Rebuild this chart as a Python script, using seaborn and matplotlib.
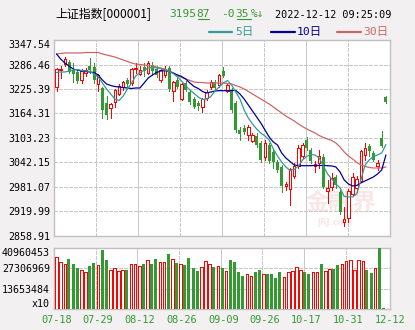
import numpy as np
import pandas as pd
import matplotlib
matplotlib.use("Agg")
import matplotlib.pyplot as plt
from matplotlib.lines import Line2D
import seaborn as sns

# ---------------- data ----------------
title = "上证指数[000001]"
price_int, price_dec = "3195", "87"
chg_int, chg_dec, chg_tail = "-0", "35", "%↓"
timestamp = "2022-12-12 09:25:09"
legend_labels = ["5日", "10日", "30日"]

date_labels = ["07-18", "07-29", "08-12", "08-26", "09-09", "09-26", "10-17", "10-31", "12-12"]
price_ticks = [3347.54, 3286.46, 3225.39, 3164.31, 3103.23, 3042.15, 2981.07, 2919.99, 2858.91]
vol_max = 40960453
vol_tick_labels = ["x10", "13653484", "27306969", "40960453"]

open_ = [3230, 3273, 3288, 3293, 3273, 3268, 3248, 3265, 3283, 3280,
         3238, 3228, 3190, 3178, 3193, 3213, 3230, 3248, 3240, 3275,
         3263, 3280, 3265, 3285, 3275, 3248, 3260, 3278, 3220, 3248,
         3200, 3240, 3218, 3200, 3190, 3180, 3203, 3230, 3243, 3235,
         3270, 3220, 3223, 3190, 3123, 3128, 3111, 3096, 3108, 3091,
         3056, 3086, 3068, 3043, 3031, 2984, 2976, 3009, 3033, 3058,
         3098, 3073, 3033, 3041, 3056, 2971, 2981, 3006, 2969, 2894,
         2904, 2964, 2979, 2996, 3061, 3083, 3066, 3033, 3103, 3205]
high = [3278, 3283, 3305, 3298, 3290, 3275, 3275, 3278, 3303, 3290,
        3262, 3230, 3208, 3190, 3225, 3238, 3245, 3253, 3278, 3290,
        3283, 3290, 3295, 3293, 3283, 3278, 3283, 3283, 3245, 3255,
        3240, 3245, 3223, 3205, 3195, 3203, 3223, 3248, 3248, 3263,
        3280, 3238, 3228, 3195, 3131, 3136, 3136, 3116, 3116, 3096,
        3098, 3091, 3073, 3048, 3036, 2994, 3028, 3041, 3086, 3091,
        3106, 3078, 3046, 3073, 3063, 2999, 3016, 3011, 2974, 2931,
        2976, 3016, 3009, 3073, 3091, 3088, 3071, 3048, 3121, 3207]
low = [3220, 3253, 3283, 3265, 3243, 3240, 3240, 3258, 3265, 3240,
       3220, 3153, 3151, 3153, 3180, 3210, 3223, 3233, 3235, 3265,
       3260, 3258, 3263, 3260, 3255, 3243, 3255, 3220, 3195, 3228,
       3198, 3220, 3188, 3178, 3173, 3168, 3198, 3225, 3223, 3230,
       3255, 3218, 3168, 3118, 3098, 3113, 3098, 3093, 3081, 3043,
       3048, 3041, 3028, 3018, 2969, 2974, 2936, 3003, 3028, 3053,
       3073, 3041, 3018, 3028, 2979, 2941, 2974, 2979, 2914, 2884,
       2894, 2959, 2969, 2994, 3048, 3058, 3046, 3023, 3081, 3190]
close = [3275, 3275, 3300, 3268, 3263, 3245, 3270, 3273, 3273, 3248,
         3260, 3173, 3160, 3188, 3223, 3233, 3243, 3238, 3275, 3278,
         3273, 3270, 3290, 3270, 3260, 3273, 3275, 3225, 3243, 3230,
         3238, 3223, 3193, 3180, 3183, 3200, 3218, 3243, 3228, 3260,
         3258, 3235, 3173, 3123, 3113, 3118, 3131, 3111, 3086, 3048,
         3091, 3046, 3043, 3024, 2984, 2989, 3026, 3033, 3078, 3086,
         3078, 3046, 3038, 3058, 2981, 2979, 3004, 2986, 2919, 2901,
         2971, 3006, 3001, 3071, 3078, 3071, 3048, 3041, 3083, 3192]
volume_m = [34.72, 31.36, 30.02, 33.57, 30.22, 27.53, 26.19, 24.64, 28.87, 30.89,
            29.55, 39.62, 32.90, 26.19, 27.33, 25.72, 26.19, 26.19, 30.02, 30.02,
            28.87, 30.02, 32.90, 30.02, 33.57, 31.36, 31.36, 36.93, 33.57, 30.89,
            30.02, 29.55, 34.25, 27.53, 25.52, 28.00, 32.23, 30.02, 28.20, 28.87,
            27.33, 25.52, 32.90, 31.36, 24.85, 22.16, 23.30, 22.16, 24.85, 26.19,
            23.30, 23.30, 23.30, 20.82, 24.85, 21.49, 24.85, 25.52, 28.00, 26.19,
            24.85, 23.50, 24.85, 24.85, 30.22, 25.52, 26.86, 26.86, 29.55, 30.22,
            32.23, 32.90, 26.19, 32.90, 32.23, 26.19, 24.17, 27.33, 40.960453, 0.87]
ma5 = [3266.5, 3267.8, 3267.8, 3270.3, 3272.8, 3274.0, 3271.5, 3270.3, 3269.5, 3262.8,
       3255.3, 3240.3, 3225.4, 3212.9, 3200.5, 3196.7, 3207.9, 3225.4, 3240.3, 3257.8,
       3266.5, 3271.5, 3277.7, 3279.0, 3277.7, 3276.0, 3272.8, 3269.0, 3264.0, 3255.3,
       3245.3, 3232.9, 3222.9, 3214.2, 3205.4, 3199.2, 3200.5, 3206.7, 3220.4, 3230.4,
       3240.3, 3246.6, 3235.4, 3217.9, 3200.5, 3173.0, 3153.1, 3138.2, 3125.7, 3115.7,
       3108.3, 3098.3, 3075.9, 3058.4, 3043.5, 3031.0, 3022.3, 3024.8, 3033.5, 3048.5,
       3057.2, 3062.1, 3060.9, 3053.5, 3033.5, 3013.6, 3001.1, 2988.7, 2978.7, 2957.5,
       2956.3, 2956.3, 2963.7, 2998.6, 3036.0, 3048.5, 3057.2, 3060.9, 3065.9, 3086.8]
ma10 = [3312.7, 3300.2, 3290.2, 3282.7, 3275.2, 3272.8, 3270.3, 3269.0, 3267.8, 3266.5,
        3260.3, 3247.8, 3237.8, 3234.1, 3231.6, 3230.4, 3229.1, 3227.9, 3226.6, 3227.9,
        3227.9, 3240.3, 3252.8, 3260.3, 3266.5, 3270.3, 3271.0, 3269.0, 3265.3, 3260.3,
        3256.5, 3250.3, 3240.3, 3231.6, 3226.6, 3219.2, 3215.4, 3217.9, 3220.4, 3221.2,
        3221.2, 3221.2, 3221.6, 3221.6, 3212.9, 3200.5, 3185.5, 3170.5, 3155.6, 3140.6,
        3123.2, 3105.8, 3093.3, 3085.8, 3065.9, 3053.5, 3044.7, 3036.0, 3034.2, 3034.2,
        3034.2, 3034.2, 3034.7, 3034.7, 3034.7, 3034.2, 3033.5, 3031.0, 3018.6, 2998.6,
        2988.7, 2983.7, 2984.9, 2991.2, 2996.2, 3001.1, 3006.1, 3013.6, 3023.6, 3060.9]
ma30 = [3312.7, 3313.9, 3315.2, 3315.2, 3315.2, 3315.2, 3315.2, 3316.4, 3316.4, 3316.4,
        3316.4, 3312.7, 3310.2, 3307.7, 3305.2, 3301.4, 3297.7, 3294.0, 3290.2, 3287.7,
        3286.5, 3285.2, 3284.0, 3282.7, 3280.2, 3277.7, 3275.2, 3270.3, 3265.3, 3259.0,
        3254.0, 3250.3, 3246.6, 3242.8, 3241.6, 3241.6, 3240.3, 3240.3, 3240.3, 3240.3,
        3240.3, 3239.1, 3237.8, 3234.1, 3230.4, 3225.4, 3219.2, 3212.9, 3206.7, 3200.5,
        3194.2, 3188.0, 3180.5, 3173.0, 3165.6, 3158.1, 3151.9, 3145.6, 3138.2, 3131.9,
        3125.7, 3120.7, 3115.7, 3109.5, 3104.5, 3100.8, 3097.0, 3090.8, 3080.9, 3068.4,
        3058.4, 3051.0, 3042.3, 3036.0, 3032.3, 3029.8, 3028.5, 3028.5, 3028.5, 3031.0]

# ---------------- style ----------------
BG = "#f2f0f1"
RED = "#ff0000"
GREEN = "#339933"
TEAL = "#339999"
NAVY = "#000099"
SALMON = "#cc6666"
GRID = "#c8c8c8"
SPINE = "#c0c0c0"
PX = 0.72  # one pixel in points

sns.set_style("white")
plt.rcParams["font.family"] = ["DejaVu Sans Mono", "Noto Sans CJK SC"]

W, H = 415, 330
fig = plt.figure(figsize=(W / 100, H / 100), dpi=100, facecolor=BG)


def rect(l, t, r, b):
    return [l / W, 1 - b / H, (r - l) / W, (b - t) / H]


ax = fig.add_axes(rect(54, 40, 390, 236))
axv = fig.add_axes(rect(54, 248, 390, 309))

df = pd.DataFrame({"idx": np.arange(len(close)), "open": open_, "high": high,
                   "low": low, "close": close,
                   "volume": np.array(volume_m) * 1e6})
df["up"] = df["close"] >= df["open"]
XLO, XHI = -0.6, 79.98

# ---------------- candles ----------------
wick_colors = [RED if u else GREEN for u in df["up"]]
ax.vlines(df["idx"], df["low"], df["high"], colors=wick_colors, lw=PX,
          zorder=3, antialiased=False)
bot = np.minimum(df["open"], df["close"])
hgt = np.maximum(np.abs(df["close"] - df["open"]), 2.0)
up = df["up"].values
ax.bar(df["idx"][up], hgt[up], bottom=bot[up], width=0.6, facecolor="white",
       edgecolor=RED, lw=PX, zorder=4, antialiased=False)
ax.bar(df["idx"][~up], hgt[~up], bottom=bot[~up], width=0.72, facecolor=GREEN,
       edgecolor=GREEN, lw=0.0, zorder=4, antialiased=False)

# moving averages
for vals, col in [(ma30, SALMON), (ma10, NAVY), (ma5, TEAL)]:
    sns.lineplot(x=df["idx"], y=vals, ax=ax, color=col, lw=0.9, legend=False,
                 sort=False, zorder=5)

ax.set_xlim(XLO, XHI)
ax.set_ylim(price_ticks[-1], price_ticks[0])
ax.set_facecolor("white")
ax.set_xlabel("")
ax.set_ylabel("")
ax.set_xticks([])
ax.set_yticks(price_ticks)
ax.set_yticklabels([f"{v:.2f}" for v in price_ticks])
ax.tick_params(axis="y", length=0, pad=3, labelsize=7.2, labelcolor="black")
ax.get_yticklabels()[0].set_va("top")

# ---------------- volume ----------------
sns.barplot(data=df, x="idx", y="volume", ax=axv, color="white", errorbar=None,
            width=0.72, zorder=4)
for p, u in zip(axv.patches, df["up"]):
    p.set_antialiased(False)
    if u:
        p.set_facecolor("white")
        p.set_edgecolor(RED)
        p.set_linewidth(PX)
        x0 = p.get_x()
        p.set_x(x0 + 0.06)
        p.set_width(0.6)
    else:
        p.set_facecolor(GREEN)
        p.set_edgecolor(GREEN)
        p.set_linewidth(0)
axv.set_xlim(XLO, XHI)
axv.set_ylim(0, vol_max)
axv.set_facecolor("white")
axv.set_xlabel("")
axv.set_ylabel("")
vt = [vol_max * k / 3 for k in range(4)]
axv.set_yticks(vt)
axv.set_yticklabels(vol_tick_labels)
axv.tick_params(axis="y", length=0, pad=3, labelsize=7.2, labelcolor="black")
axv.get_yticklabels()[-1].set_va("top")
axv.get_yticklabels()[0].set_va("bottom")

xg = [XLO + (XHI - XLO) * k / 8 for k in range(9)]
axv.set_xticks([x + 0.6 for x in xg])
axv.set_xticklabels(date_labels)
axv.tick_params(axis="x", length=0, pad=4, labelsize=7.4, labelcolor=GREEN)

# ---------------- grid & frame ----------------
for a in (ax, axv):
    for k in range(1, 8):
        a.axvline(xg[k], color=GRID, lw=PX, zorder=1,
                  ls="-" if k % 2 == 0 else (0, (3, 2)), antialiased=False)
    for s in a.spines.values():
        s.set_color(SPINE)
        s.set_linewidth(1.0)
for v in price_ticks[1:-1]:
    ax.axhline(v, color=GRID, lw=PX, ls=(0, (3, 2)), zorder=1, antialiased=False)
for v in vt[1:3]:
    axv.axhline(v, color=GRID, lw=PX, ls=(0, (3, 2)), zorder=1, antialiased=False)

# watermark
ax.text(0.855, 0.17, "金融界", transform=ax.transAxes, ha="center", va="center",
        fontsize=17, fontweight="bold", color="#f9e6e6", zorder=0,
        family=["Noto Sans CJK SC"])
ax.text(0.835, 0.07, "JRJ.com", transform=ax.transAxes, ha="center", va="center",
        fontsize=6, fontweight="bold", color="#f9e6e6", zorder=0,
        family=["DejaVu Sans"])

# ---------------- header ----------------
def ftext(x, y, s, **kw):
    return fig.text(x / W, 1 - y / H, s, va="center", ha="left", **kw)


ftext(55, 15, title, fontsize=8.6, color="black",
      family=["Noto Sans CJK SC", "DejaVu Sans"])
ftext(169, 14, price_int, fontsize=8, color=GREEN)
ftext(196.5, 14, price_dec, fontsize=8, color=GREEN)
fig.add_artist(Line2D([197.5 / W, 208.5 / W], [1 - 18.5 / H, 1 - 18.5 / H],
                      color=GREEN, lw=0.8))
ftext(221, 14, chg_int, fontsize=8, color=GREEN)
ftext(235.5, 14, chg_dec, fontsize=8, color=GREEN)
fig.add_artist(Line2D([237 / W, 251 / W], [1 - 18.5 / H, 1 - 18.5 / H],
                      color=GREEN, lw=0.8))
ftext(250.5, 14, chg_tail, fontsize=8, color=GREEN,
      family=["DejaVu Sans Mono", "DejaVu Sans"])
ftext(275, 15, timestamp, fontsize=7.3, color="black")

for (x0, x1, tx), lab, col in zip([(209, 232, 235), (271, 295, 297), (337, 361, 363)],
                                  legend_labels, [TEAL, NAVY, SALMON]):
    fig.add_artist(Line2D([x0 / W, x1 / W], [1 - 31.5 / H, 1 - 31.5 / H],
                          color=col, lw=1.6))
    ftext(tx, 32, lab, fontsize=8.2, color=col)

fig.savefig("out.png", dpi=100, facecolor=BG)
